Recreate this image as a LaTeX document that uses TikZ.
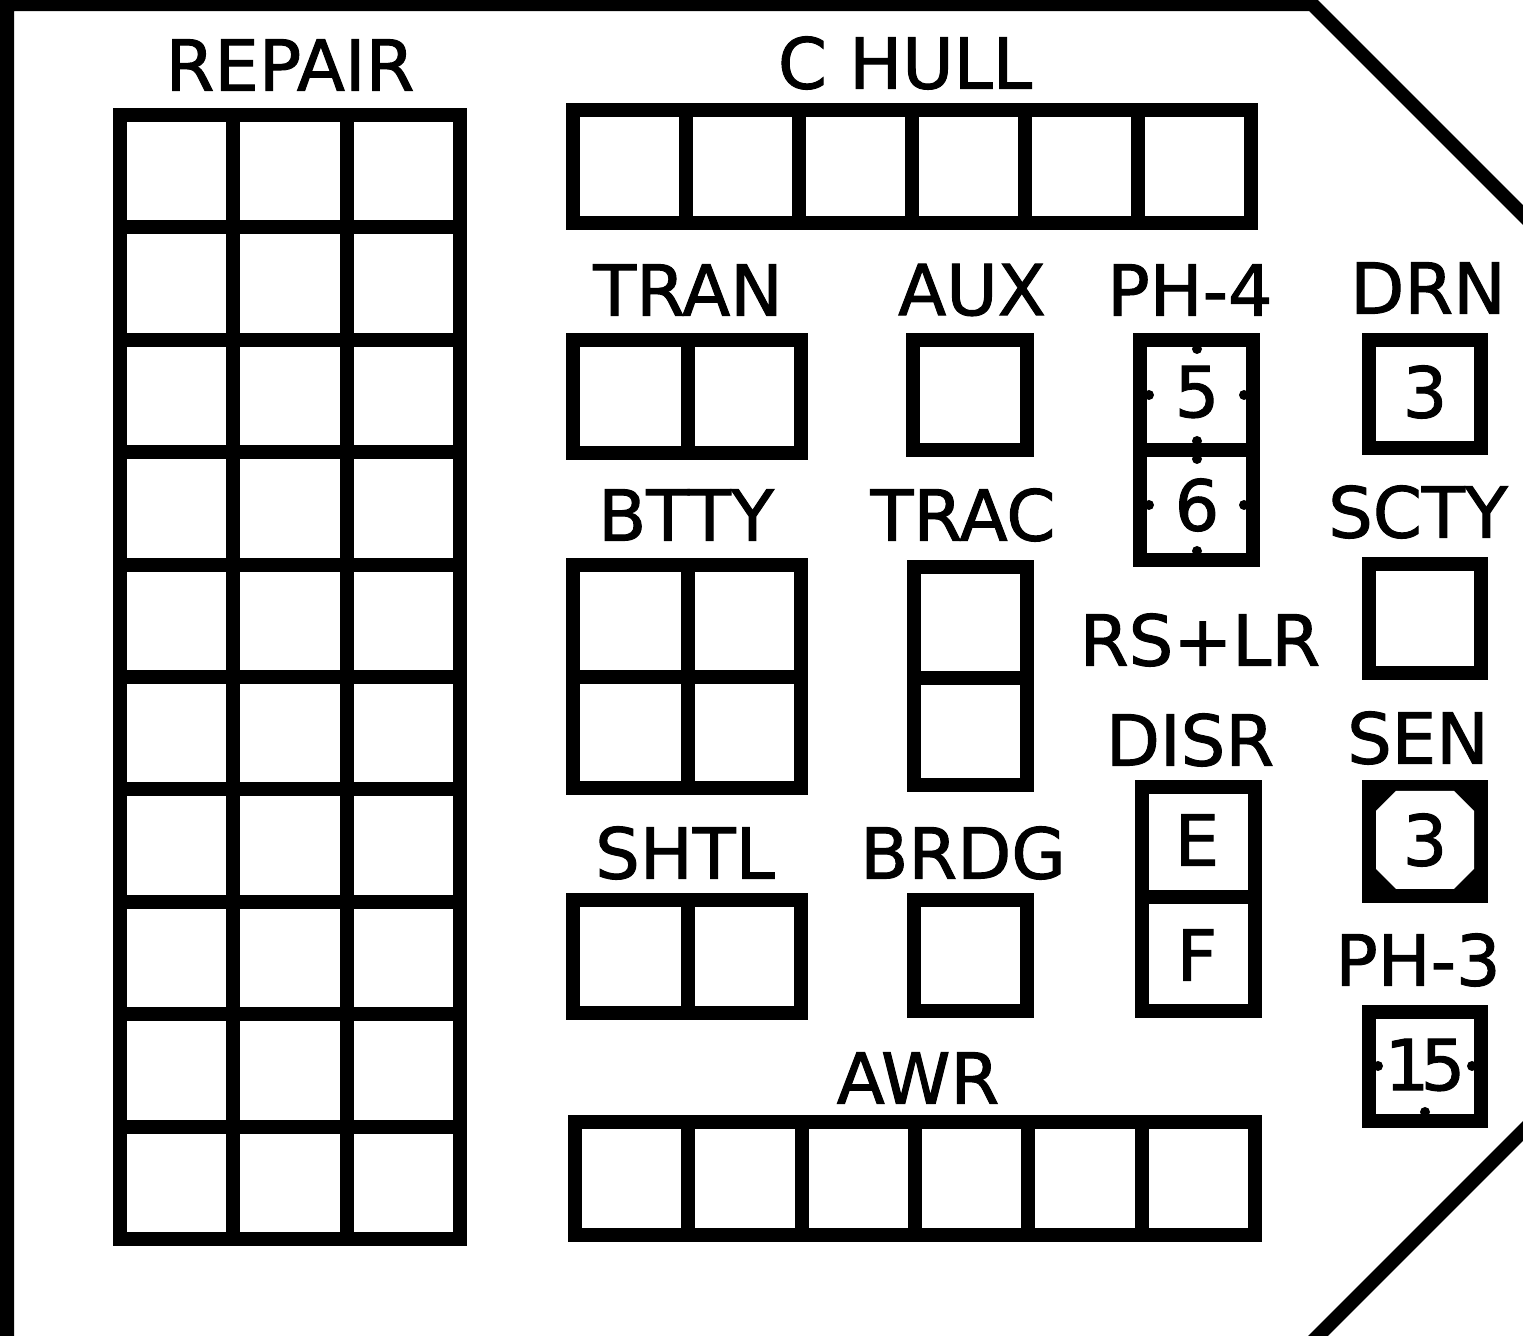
\documentclass[tikz,border=0pt]{standalone}
\usepackage{fontspec}
\setmainfont{DejaVu Sans}
\newfontfamily\plotfont[FakeBold=1.4]{DejaVu Sans}

\begin{document}
\begin{tikzpicture}[
    box/.style={line width=4pt},
    lbl/.style={font=\plotfont\fontsize{20}{24}\selectfont, inner sep=0pt}
  ]
    \useasboundingbox (0,0) rectangle (15.23,13.36);

    % Outline
    \draw[box] (0.07,-0.2) -- (0.07,13.32) -- (13.12,13.32) -- (15.45,10.99);
    \draw[box] (13.06,-0.12) -- (15.40,2.22);

    % Repair
    \node[lbl] (repair) at (2.90,12.71) {REPAIR};
    \draw[box] (1.20,0.97) rectangle (4.60,12.21);
    \draw[box] (2.33,0.97) -- (2.33,12.21);
    \draw[box] (3.47,0.97) -- (3.47,12.21);
    \draw[box] (1.20,11.09) -- (4.60,11.09);
    \draw[box] (1.20,9.96) -- (4.60,9.96);
    \draw[box] (1.20,8.84) -- (4.60,8.84);
    \draw[box] (1.20,7.71) -- (4.60,7.71);
    \draw[box] (1.20,6.59) -- (4.60,6.59);
    \draw[box] (1.20,5.47) -- (4.60,5.47);
    \draw[box] (1.20,4.34) -- (4.60,4.34);
    \draw[box] (1.20,3.22) -- (4.60,3.22);
    \draw[box] (1.20,2.09) -- (4.60,2.09);

    % C hull
    \node[lbl] (chull) at (9.05,12.73) {C HULL};
    \draw[box] (5.73,11.13) rectangle (12.51,12.26);
    \draw[box] (6.86,11.13) -- (6.86,12.26);
    \draw[box] (7.99,11.13) -- (7.99,12.26);
    \draw[box] (9.12,11.13) -- (9.12,12.26);
    \draw[box] (10.25,11.13) -- (10.25,12.26);
    \draw[box] (11.38,11.13) -- (11.38,12.26);

    % Tran, aux
    \node[lbl] (tran) at (6.88,10.46) {TRAN};
    \draw[box] (5.73,8.83) rectangle (8.01,9.96);
    \draw[box] (6.88,8.83) -- (6.88,9.96);

    \node[lbl] (aux) at (9.72,10.46) {AUX};
    \draw[box] (9.13,8.86) rectangle (10.27,9.96);

    % PH-4
    \node[lbl] (ph4) at (11.90,10.46) {PH-4};
    \draw[box] (11.40,7.76) rectangle (12.53,9.96);
    \draw[box] (11.40,8.86) -- (12.53,8.86);
    \fill (11.97,9.87) circle (0.05);
    \fill (11.49,9.41) circle (0.05);
    \fill (12.44,9.41) circle (0.05);
    \fill (11.97,8.95) circle (0.05);
    \fill (11.97,8.77) circle (0.05);
    \fill (11.49,8.31) circle (0.05);
    \fill (12.44,8.31) circle (0.05);
    \fill (11.97,7.85) circle (0.05);
    \node[lbl] (ph4a) at (11.97,9.44) {5};
    \node[lbl] (ph4b) at (11.97,8.31) {6};

    % DRN
    \node[lbl] (drn) at (14.28,10.48) {DRN};
    \draw[box] (13.69,8.88) rectangle (14.81,9.96);
    \node[lbl] (drnn) at (14.25,9.44) {3};

    % Btty, trac
    \node[lbl] (btty) at (6.86,8.21) {BTTY};
    \draw[box] (5.73,5.48) rectangle (8.01,7.71);
    \draw[box] (6.88,5.48) -- (6.88,7.71);
    \draw[box] (5.73,6.59) -- (8.01,6.59);

    \node[lbl] (trac) at (9.63,8.21) {TRAC};
    \draw[box] (9.14,5.51) rectangle (10.27,7.69);
    \draw[box] (9.14,6.58) -- (10.27,6.58);

    % Scty, rs+lr
    \node[lbl] (scty) at (14.18,8.24) {SCTY};
    \draw[box] (13.69,6.63) rectangle (14.81,7.72);

    \node[lbl] (rslr) at (12.00,6.96) {RS+LR};

    % Disr
    \node[lbl] (disr) at (11.90,5.96) {DISR};
    \draw[box] (11.42,3.25) rectangle (12.55,5.49);
    \draw[box] (11.42,4.39) -- (12.55,4.39);
    \node[lbl] (disre) at (11.97,4.96) {E};
    \node[lbl] (disrf) at (11.97,3.81) {F};

    % Sen
    \node[lbl] (sen) at (14.18,5.98) {SEN};
    \fill (13.62,4.33) rectangle (14.88,5.56);
    \fill[white] (13.96,5.45) -- (14.54,5.45) -- (14.74,5.25) -- (14.74,4.67)
        -- (14.54,4.47) -- (13.96,4.47) -- (13.76,4.67) -- (13.76,5.25) -- cycle;
    \node[lbl] (senn) at (14.25,4.96) {3};

    % Shtl, brdg
    \node[lbl] (shtl) at (6.85,4.83) {SHTL};
    \draw[box] (5.73,3.23) rectangle (8.01,4.36);
    \draw[box] (6.88,3.23) -- (6.88,4.36);

    \node[lbl] (brdg) at (9.63,4.83) {BRDG};
    \draw[box] (9.14,3.25) rectangle (10.27,4.36);

    % PH-3
    \node[lbl] (ph3) at (14.18,3.76) {PH-3};
    \draw[box] (13.69,2.15) rectangle (14.81,3.24);
    \fill (13.78,2.70) circle (0.05);
    \fill (14.72,2.70) circle (0.05);
    \fill (14.25,2.24) circle (0.05);
    \node[lbl] (ph3n) at (14.25,2.71) {1\kern-2.5pt5};

    % Awr
    \node[lbl] (awr) at (9.18,2.58) {AWR};
    \draw[box] (5.75,1.01) rectangle (12.55,2.14);
    \draw[box] (6.88,1.01) -- (6.88,2.14);
    \draw[box] (8.02,1.01) -- (8.02,2.14);
    \draw[box] (9.15,1.01) -- (9.15,2.14);
    \draw[box] (10.28,1.01) -- (10.28,2.14);
    \draw[box] (11.42,1.01) -- (11.42,2.14);
\end{tikzpicture}
\end{document}
